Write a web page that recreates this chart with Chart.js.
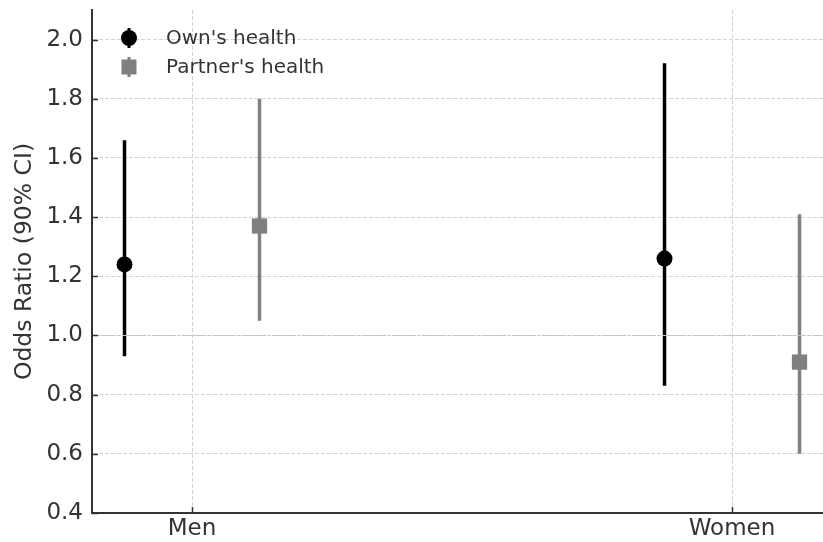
<!DOCTYPE html>
<html>
<head>
<meta charset="utf-8">
<script src="https://cdn.jsdelivr.net/npm/chart.js@4.4.1/dist/chart.umd.min.js"></script>
<style>
  html, body { margin: 0; padding: 0; background: #fff; }
  #wrap { width: 823px; height: 542px; }
</style>
</head>
<body>
<div id="wrap"><canvas id="chart" width="823" height="542"></canvas></div>
<script>
// Odds ratios (90% CI) por grupo
const categories = ['Men', 'Women'];
const catPos = [0, 2];
const groupOffset = 0.25;

const ownOR = [1.24, 1.26];
const ownLo = [0.93, 0.83];
const ownHi = [1.66, 1.92];

const partnerOR = [1.37, 0.91];
const partnerLo = [1.05, 0.60];
const partnerHi = [1.80, 1.41];

const yTicks = [0.4, 0.6, 0.8, 1.0, 1.2, 1.4, 1.6, 1.8, 2.0];
const refLine = 1.0;

const FONT = "'DejaVu Sans', sans-serif";
const TEXT = '#333';
const GRID = '#d2d2d2';
const OWN = '#000000';
const PARTNER = '#808080';

// linhas dos intervalos: pares de pontos separados por null
function errorSegments(lo, hi, shift) {
  const pts = [];
  lo.forEach((v, i) => {
    const x = catPos[i] + shift;
    pts.push({ x, y: v }, { x, y: hi[i] }, { x, y: null });
  });
  return pts;
}

function pointData(vals, shift) {
  return vals.map((v, i) => ({ x: catPos[i] + shift, y: v }));
}

const datasets = [
  {
    type: 'line', label: '_own_err', data: errorSegments(ownLo, ownHi, -groupOffset),
    borderColor: OWN, borderWidth: 3.5, pointRadius: 0, spanGaps: false, borderCapStyle: 'butt', order: 3
  },
  {
    type: 'line', label: '_partner_err', data: errorSegments(partnerLo, partnerHi, groupOffset),
    borderColor: PARTNER, borderWidth: 3.5, pointRadius: 0, spanGaps: false, borderCapStyle: 'butt', order: 3
  },
  {
    type: 'scatter', label: "Own's health", data: pointData(ownOR, -groupOffset),
    pointStyle: 'circle', pointRadius: 8, backgroundColor: OWN, borderColor: OWN, borderWidth: 0, order: 1
  },
  {
    type: 'scatter', label: "Partner's health", data: pointData(partnerOR, groupOffset),
    pointStyle: 'rect', pointRadius: 10.8, backgroundColor: PARTNER, borderColor: PARTNER, borderWidth: 0, order: 1
  }
];

// linha de referência em OR = 1, ticks para dentro, legenda sem moldura
const extras = {
  id: 'extras',
  afterDatasetsDraw(chart) {
    const { ctx, chartArea: a, scales: { x, y } } = chart;
    ctx.save();
    const yy = Math.round(y.getPixelForValue(refLine)) + 0.5;
    ctx.strokeStyle = '#c4c4c4';
    ctx.lineWidth = 1;
    ctx.setLineDash([9, 2, 2, 2]);
    ctx.beginPath();
    ctx.moveTo(a.left, yy);
    ctx.lineTo(a.right, yy);
    ctx.stroke();
    ctx.setLineDash([]);

    // ticks
    ctx.strokeStyle = TEXT;
    ctx.lineWidth = 1.5;
    y.ticks.forEach(t => {
      const py = Math.round(y.getPixelForValue(t.value)) + 0.5;
      ctx.beginPath(); ctx.moveTo(a.left, py); ctx.lineTo(a.left + 6, py); ctx.stroke();
    });
    x.ticks.forEach(t => {
      const px = Math.round(x.getPixelForValue(t.value)) + 0.5;
      ctx.beginPath(); ctx.moveTo(px, a.bottom); ctx.lineTo(px, a.bottom - 6); ctx.stroke();
    });

    // legenda
    const items = chart.data.datasets.filter(d => !d.label.startsWith('_'));
    const lx = 129, ly0 = 38, dy = 29;
    items.forEach((d, i) => {
      const cy = ly0 + i * dy;
      ctx.strokeStyle = d.borderColor;
      ctx.lineWidth = 3;
      ctx.beginPath(); ctx.moveTo(lx, cy - 10); ctx.lineTo(lx, cy + 10); ctx.stroke();
      ctx.fillStyle = d.backgroundColor;
      if (d.pointStyle === 'circle') {
        ctx.beginPath(); ctx.arc(lx, cy, 8, 0, Math.PI * 2); ctx.fill();
      } else {
        ctx.fillRect(lx - 7.5, cy - 7.5, 15, 15);
      }
      ctx.fillStyle = TEXT;
      ctx.font = '20px ' + FONT;
      ctx.textBaseline = 'middle';
      ctx.textAlign = 'left';
      ctx.fillText(d.label, 166, cy + 1);
    });
    ctx.restore();
  }
};

new Chart(document.getElementById('chart'), {
  data: { datasets },
  options: {
    responsive: false,
    animation: false,
    layout: { autoPadding: false, padding: { top: 10, right: 0, left: 0, bottom: 0 } },
    plugins: { legend: { display: false }, tooltip: { enabled: false } },
    scales: {
      x: {
        type: 'linear',
        min: -0.3704,
        max: 2.337,
        afterBuildTicks: s => { s.ticks = catPos.map(v => ({ value: v })); },
        afterFit: s => { s.height = 29; s.paddingLeft = 0; s.paddingRight = 0; },
        ticks: {
          callback: (v, i) => categories[i],
          font: { family: FONT, size: 23 },
          color: TEXT,
          padding: 2,
          maxRotation: 0
        },
        grid: { color: GRID, lineWidth: 1, drawTicks: false },
        border: { display: true, color: TEXT, width: 2, dash: [4, 2] }
      },
      y: {
        type: 'linear',
        min: 0.4,
        max: 2.1,
        afterBuildTicks: s => { s.ticks = yTicks.map(v => ({ value: v })); },
        afterFit: s => { s.width = 92; s.paddingTop = 0; s.paddingBottom = 0; },
        ticks: {
          callback: v => v.toFixed(1),
          font: { family: FONT, size: 23 },
          color: TEXT,
          padding: 9
        },
        grid: { color: GRID, lineWidth: 1, drawTicks: false },
        border: { display: true, color: TEXT, width: 2, dash: [4, 2] },
        title: {
          display: true,
          text: 'Odds Ratio (90% CI)',
          font: { family: FONT, size: 23.5 },
          color: TEXT,
          padding: { top: 11, bottom: 0 }
        }
      }
    }
  },
  plugins: [extras]
});
</script>
</body>
</html>
